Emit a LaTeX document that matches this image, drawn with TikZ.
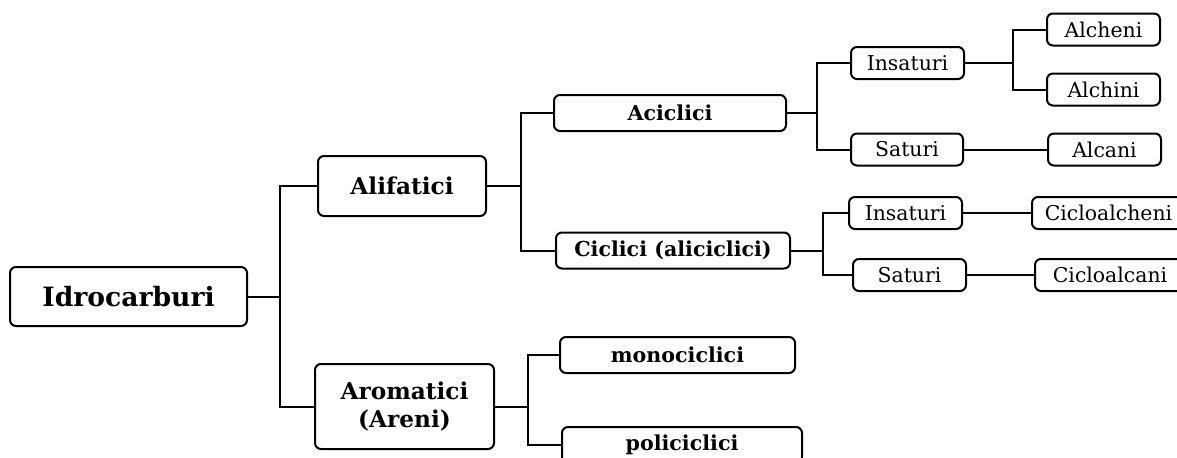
\documentclass[tikz,border=0pt]{standalone}
\usepackage{fontspec}
\setmainfont{DejaVu Serif}
\usepackage{tikz}
\usetikzlibrary{calc}

\begin{document}
\begin{tikzpicture}[x=0.5pt, y=-0.5pt, line width=1pt,
    box/.style={draw, rounded corners=3pt, inner sep=0pt, align=center},
    root/.style={box, font=\fontsize{13.3}{16}\selectfont\bfseries},
    family/.style={box, font=\fontsize{11.6}{14}\selectfont\bfseries},
    kind/.style={box, font=\fontsize{10.3}{12}\selectfont\bfseries},
    leaf/.style={box, font=\fontsize{10.2}{12}\selectfont}]
    \useasboundingbox (0,0) rectangle (1177,457);
    \clip (0,0) rectangle (1177,457);

    % Main classes
    \node [root, minimum width=118.5pt, minimum height=29.5pt] (idro) at (128.5,296.5) {Idrocarburi};
    \node [family, minimum width=84pt, minimum height=30pt] (alif) at (402,186) {Alifatici};
    \node [family, minimum width=89.5pt, minimum height=42.5pt] (arom) at (404.5,406.5) {Aromatici\\(Areni)};

    % Sub classes
    \foreach \name/\x/\y/\w/\label in {
        acic/670/113/116/Aciclici, cicl/673/250.5/117/Ciclici (aliciclici),
        mono/677.5/355/117.5/monociclici, poli/682/445/120/policiclici} {
        \node [kind, minimum width=\w pt, minimum height=18pt] (\name) at (\x,\y) {\label};
    }

    % Leaves
    \foreach \name/\x/\y/\w/\label in {
        ins1/907.5/63/56.5/Insaturi, sat1/907/149.5/56/Saturi,
        alch/1103.5/29.5/56.5/Alcheni, alchi/1103.5/89.5/56.5/Alchini,
        alca/1104.5/149.5/56.5/Alcani,
        ins2/905.5/213/56.5/Insaturi, sat2/909.5/275/56.5/Saturi,
        cicloalch/1108.5/213/76.5/Cicloalcheni, cicloalca/1110/275/75/Cicloalcani} {
        \node [leaf, minimum width=\w pt, minimum height=16pt] (\name) at (\x,\y) {\label};
    }

    % Junctions
    \coordinate (jidro) at (280,296.5);
    \coordinate (jalif) at (521,186);
    \coordinate (jarom) at (528,406.5);
    \coordinate (jacic) at (817,113);
    \coordinate (jcicl) at (823,250.5);
    \coordinate (jins) at (1013,63);

    % Connectors
    \foreach \parent/\j/\top/\bottom in {
        idro/jidro/alif/arom, alif/jalif/acic/cicl, arom/jarom/mono/poli,
        acic/jacic/ins1/sat1, cicl/jcicl/ins2/sat2, ins1/jins/alch/alchi} {
        \draw (\parent) -- (\j);
        \draw (\top.west) -| (\j) |- (\bottom.west);
    }
    \foreach \a/\b in {sat1/alca, ins2/cicloalch, sat2/cicloalca}
        \draw (\a) -- (\b);
\end{tikzpicture}
\end{document}
